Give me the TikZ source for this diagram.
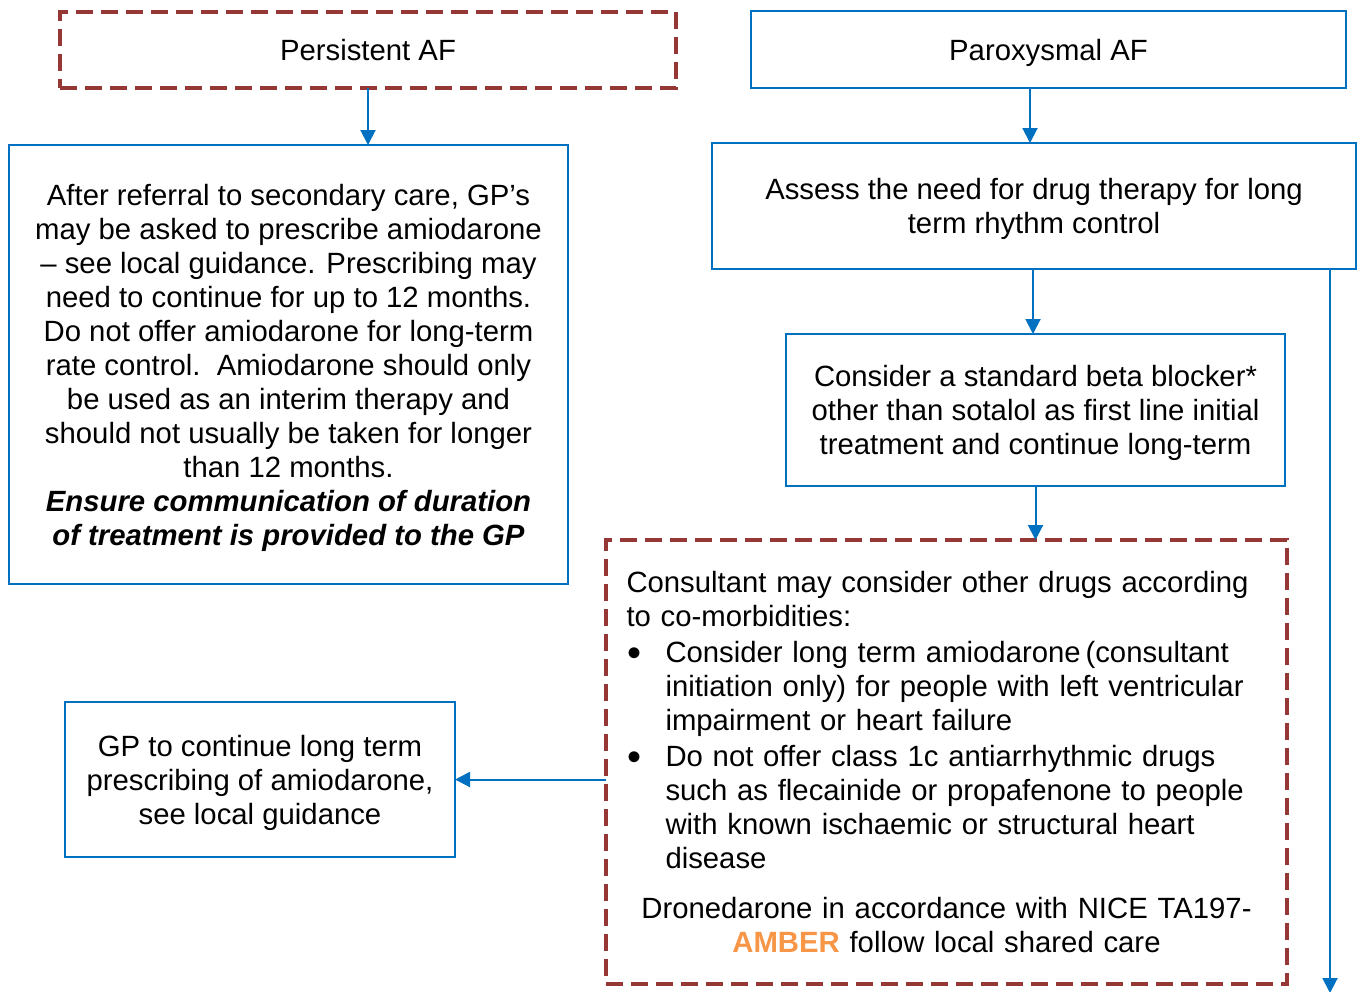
\documentclass[tikz,border=0pt]{standalone}
\usepackage{fontspec}
\setmainfont{Liberation Sans}
\usetikzlibrary{arrows.meta}
\definecolor{flowblue}{RGB}{0,112,192}
\definecolor{dashred}{RGB}{149,55,53}
\definecolor{amber}{RGB}{247,150,70}
% bullet of the consultant list
\newcommand{\bigdot}{\makebox[39pt][l]{\hspace{1pt}\raisebox{-4pt}{\fontsize{40}{34}\selectfont •}}}
% centred lines, set a little lower inside their box
\newcommand{\lowlines}[1]{\raisebox{-4pt}[\height][\depth]{\begin{tabular}{@{}c@{}}#1\end{tabular}}}
\tikzset{
  every node/.style={font=\fontsize{29.3}{34}\selectfont, outer sep=0pt, inner sep=0pt},
  bluebox/.style={draw=flowblue, line width=2pt, align=center},
  redbox/.style={draw=dashred, line width=4.5pt, dash pattern=on 17pt off 8pt, align=center},
  flow/.style={draw=flowblue, line width=2pt, -{Triangle[length=15pt,width=15pt]}},
}
\begin{document}
\begin{tikzpicture}[x=1pt, y=-1pt]
\clip (0,0) rectangle (1359,991);
\fill[white] (0,0) rectangle (1359,991);

% top row
\node[redbox, minimum width=616pt, minimum height=76pt] (persist) at (368,50) {Persistent AF};
\node[bluebox, minimum width=595pt, minimum height=77pt] (parox) at (1048.5,49.5) {\lowlines{Paroxysmal AF}};

% persistent branch
\node[bluebox, minimum width=559pt, minimum height=439pt] (interim) at (288.5,364.5) {\lowlines{%
After referral to secondary care, GP’s\\
may be asked to prescribe amiodarone\\
– see local guidance. Prescribing may\\
need to continue for up to 12 months.\\
Do not offer amiodarone for long-term\\
rate control.\ \ Amiodarone should only\\
be used as an interim therapy and\\
should not usually be taken for longer\\
than 12 months.\\
\textbf{\textit{Ensure communication of duration}}\\
\textbf{\textit{of treatment is provided to the GP}}}};

\node[bluebox, minimum width=390pt, minimum height=155pt] (gp) at (260,779.5) {\lowlines{%
GP to continue long term\\
prescribing of amiodarone,\\
see local guidance}};

% paroxysmal branch
\node[bluebox, minimum width=644pt, minimum height=126pt] (assess) at (1034,206) {\lowlines{%
Assess the need for drug therapy for long\\
term rhythm control}};

\node[bluebox, minimum width=499pt, minimum height=152pt] (beta) at (1035.5,410) {\lowlines{%
Consider a standard beta blocker*\\
other than sotalol as first line initial\\
treatment and continue long-term}};

\node[redbox, minimum width=681pt, minimum height=444pt, text width=640pt, align=left] (consult) at (946.5,762) {%
Consultant may consider other drugs according\\
to co-morbidities:\\[2pt]
\bigdot Consider long term amiodarone\,(consultant\\
\hspace*{39pt}initiation only) for people with left ventricular\\
\hspace*{39pt}impairment or heart failure\\[2pt]
\bigdot Do not offer class 1c antiarrhythmic drugs\\
\hspace*{39pt}such as flecainide or propafenone to people\\
\hspace*{39pt}with known ischaemic or structural heart\\
\hspace*{39pt}disease\\[16pt]
\makebox[640pt][c]{Dronedarone in accordance with NICE TA197-}\\
\makebox[640pt][c]{\textcolor{amber}{\textbf{AMBER}} follow local shared care}};

\coordinate (downend) at (1330,993);

% connectors
\draw[flow] (persist.south) -- (persist.south |- interim.north);
\draw[flow] ([xshift=-18.5pt]parox.south) -- ([xshift=-18.5pt]parox.south |- assess.north);
\draw[flow] ([xshift=-1pt]assess.south) -- ([xshift=-1pt]assess.south |- beta.north);
\draw[flow] (beta.south) -- (beta.south |- consult.north);
\draw[flow] (consult.west |- gp.east) -- (gp.east);
\draw[flow] (assess.south -| downend) -- (downend);
\end{tikzpicture}
\end{document}
